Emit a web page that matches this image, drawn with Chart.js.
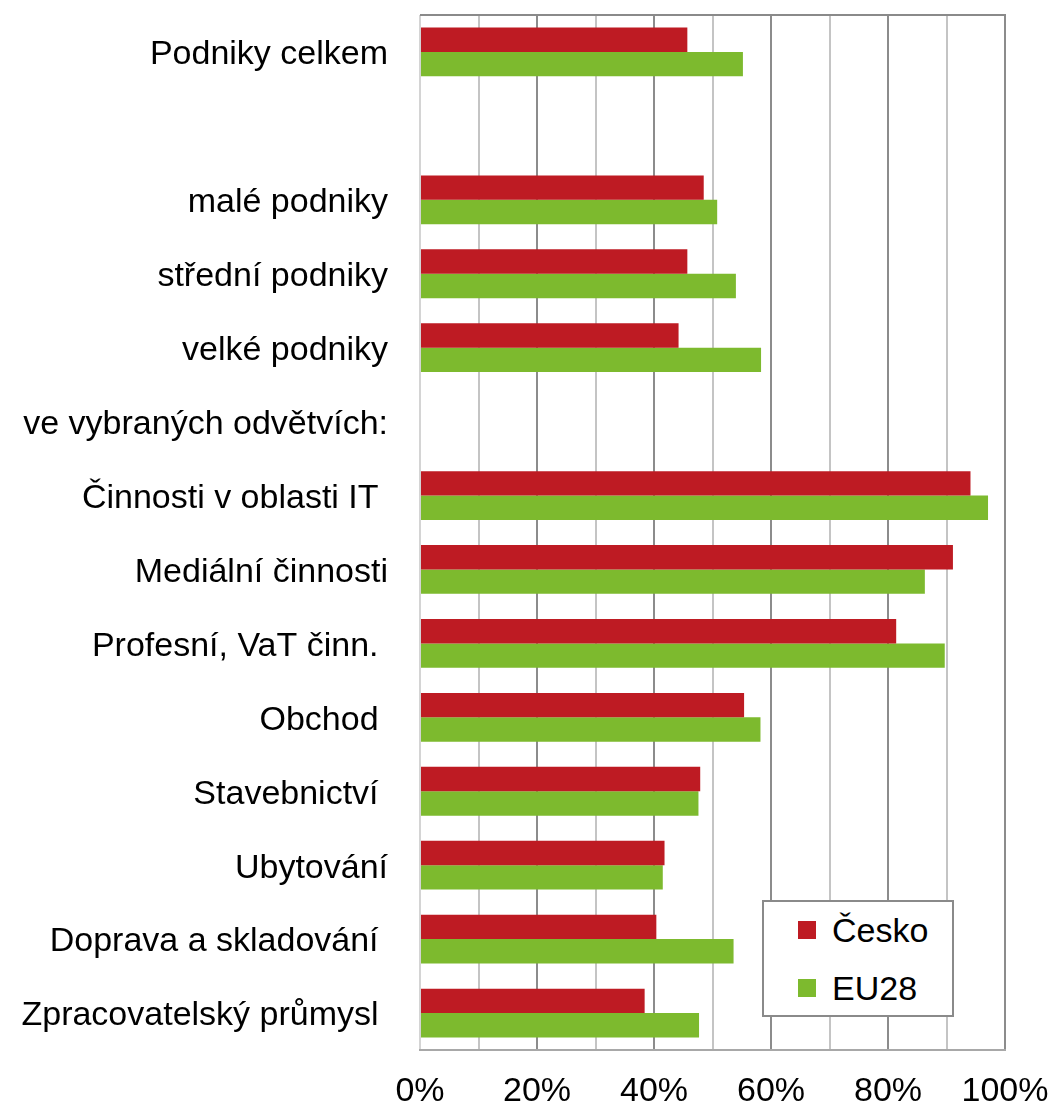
<!DOCTYPE html>
<html>
<head>
<meta charset="utf-8">
<script src="https://cdn.jsdelivr.net/npm/chart.js@4/dist/chart.umd.min.js"></script>
<style>
  html, body { margin: 0; padding: 0; background: #fff; }
  #wrap { position: relative; width: 1054px; height: 1108px; }
  #legend {
    position: absolute; left: 762px; top: 900px; width: 188px; height: 113px;
    border: 2px solid #8a8a8a; background: #fff; box-sizing: content-box;
    font-family: "Liberation Sans", Arial, sans-serif; font-size: 34px; color: #000;
  }
  .item { position: absolute; left: 34px; height: 58px; display: flex; align-items: center; }
  .sw { width: 18px; height: 18px; margin-right: 16px; }
</style>
</head>
<body>
<div id="wrap">
  <canvas id="c" width="1054" height="1108"></canvas>
  <div id="legend"></div>
</div>
<script>
const categories = [
  'Podniky celkem', '', 'malé podniky', 'střední podniky', 'velké podniky',
  've vybraných odvětvích:', 'Činnosti v oblasti IT ', 'Mediální činnosti',
  'Profesní, VaT činn. ', 'Obchod ', 'Stavebnictví ', 'Ubytování',
  'Doprava a skladování ', 'Zpracovatelský průmysl '
];
const seriesNames = ['Česko', 'EU28'];
const seriesColors = ['#BE1B23', '#7DBA2E'];
const cesko = [45.7, null, 48.5, 45.7, 44.2, null, 94.1, 91.1, 81.4, 55.4, 47.9, 41.8, 40.4, 38.4];
const eu28  = [55.2, null, 50.8, 54.0, 58.3, null, 97.1, 86.3, 89.7, 58.2, 47.6, 41.5, 53.6, 47.7];
const xTickLabels = ['0%', '20%', '40%', '60%', '80%', '100%'];

const FONT = '"Liberation Sans", Arial, sans-serif';

const topBorder = {
  id: 'topBorder',
  afterDatasetsDraw(chart) {
    const a = chart.chartArea, ctx = chart.ctx;
    ctx.save();
    ctx.strokeStyle = '#8a8a8a';
    ctx.lineWidth = 2;
    ctx.beginPath();
    ctx.moveTo(a.left, a.top);
    ctx.lineTo(a.right + 1, a.top);
    ctx.stroke();
    ctx.restore();
  }
};

function zeroPad(s) {
  s.paddingTop = 0; s.paddingBottom = 0; s.paddingLeft = 0; s.paddingRight = 0;
}

const chart = new Chart(document.getElementById('c'), {
  type: 'bar',
  data: {
    labels: categories,
    datasets: [
      { label: seriesNames[0], data: cesko, backgroundColor: seriesColors[0] },
      { label: seriesNames[1], data: eu28, backgroundColor: seriesColors[1] }
    ]
  },
  options: {
    indexAxis: 'y',
    responsive: false,
    animation: false,
    devicePixelRatio: 1,
    layout: { padding: { top: 15, right: 49, left: 0, bottom: 0 } },
    datasets: { bar: { categoryPercentage: 0.66, barPercentage: 1.0 } },
    plugins: { legend: { display: false }, tooltip: { enabled: false } },
    scales: {
      x: {
        min: 0, max: 100,
        ticks: {
          stepSize: 10,
          autoSkip: false,
          maxRotation: 0,
          padding: 21,
          color: '#000',
          font: { family: FONT, size: 34 },
          callback: (v) => (v % 20 === 0 ? xTickLabels[v / 20] : '')
        },
        grid: {
          drawTicks: false,
          lineWidth: 2,
          color: (ctx) => {
            const v = ctx.tick ? ctx.tick.value : 0;
            if (v === 0) return '#d4d4d4';
            return (v % 20 === 0) ? '#8c8c8c' : '#c4c4c4';
          }
        },
        border: { display: true, color: '#a8a8a8', width: 2 },
        afterFit: (s) => { s.height = 58; zeroPad(s); }
      },
      y: {
        ticks: {
          padding: 32,
          labelOffset: 3,
          autoSkip: false,
          color: '#000',
          font: { family: FONT, size: 34 }
        },
        grid: { display: false, drawTicks: false },
        border: { display: false },
        afterFit: (s) => { s.width = 420; zeroPad(s); }
      }
    }
  },
  plugins: [topBorder]
});

const legend = document.getElementById('legend');
seriesNames.forEach((name, i) => {
  const it = document.createElement('div');
  it.className = 'item';
  it.style.top = (-1 + i * 58) + 'px';
  const sw = document.createElement('span');
  sw.className = 'sw';
  sw.style.background = seriesColors[i];
  const tx = document.createElement('span');
  tx.textContent = name;
  it.appendChild(sw);
  it.appendChild(tx);
  legend.appendChild(it);
});
</script>
</body>
</html>
